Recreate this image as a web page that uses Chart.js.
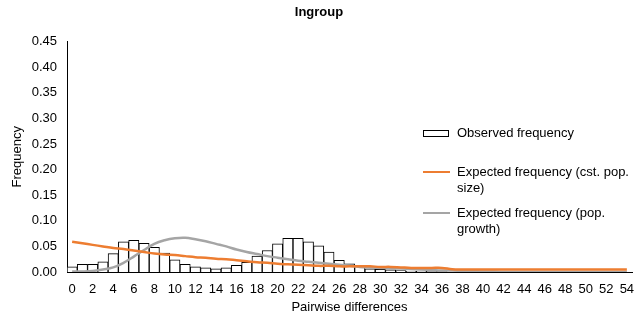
<!DOCTYPE html>
<html>
<head>
<meta charset="utf-8">
<script src="https://cdn.jsdelivr.net/npm/chart.js@4.4.1/dist/chart.umd.min.js"></script>
<style>
  body { margin: 0; background: #fff; }
  #wrap { position: relative; width: 637px; height: 324px; }
  .leg { position: absolute; font-family: "Liberation Sans", Arial, sans-serif; font-size: 13px; line-height: 16px; color: #000; white-space: nowrap; }
  .sym { position: absolute; }
</style>
</head>
<body>
<div id="wrap">
  <canvas id="chart" width="637" height="324"></canvas>
  <!-- legend drawn as html so the wrapped labels sit like the original -->
  <div class="sym" style="left:423px;top:130px;width:26px;height:7px;border:1px solid #000;box-sizing:border-box;background:#fff"></div>
  <div class="leg" style="left:457px;top:125px">Observed frequency</div>
  <div class="sym" style="left:423px;top:171px;width:27px;height:2px;background:#ED7D31"></div>
  <div class="leg" style="left:457px;top:164px">Expected frequency (cst. pop.<br>size)</div>
  <div class="sym" style="left:423px;top:212px;width:27px;height:2px;background:#A5A5A5"></div>
  <div class="leg" style="left:457px;top:205px">Expected frequency (pop.<br>growth)</div>
</div>
<script>
//------------------------------------//
//--------------- Data ---------------//
//------------------------------------//

const differences = [];
for (let i = 0; i <= 54; i++) differences.push(String(i));

const observedFreq = [
  0.010, 0.015, 0.015, 0.020, 0.036, 0.059, 0.062, 0.056, 0.048, 0.037,
  0.024, 0.015, 0.010, 0.008, 0.006, 0.008, 0.013, 0.019, 0.031, 0.042,
  0.055, 0.066, 0.066, 0.059, 0.051, 0.039, 0.023, 0.016, 0.011, 0.006,
  0.005, 0.004, 0.003, 0.002, 0.002, 0.001, 0.001, 0, 0, 0,
  0, 0, 0, 0, 0, 0, 0, 0, 0, 0,
  0, 0, 0, 0, 0
];

const expectedConstant = [
  0.059, 0.056, 0.053, 0.050, 0.047, 0.045, 0.042, 0.039, 0.036, 0.034,
  0.033, 0.031, 0.029, 0.028, 0.026, 0.025, 0.023, 0.021, 0.019, 0.018,
  0.016, 0.015, 0.014, 0.013, 0.012, 0.012, 0.011, 0.011, 0.011, 0.011,
  0.010, 0.010, 0.009, 0.008, 0.008, 0.008, 0.008, 0.0055, 0.005, 0.005,
  0.005, 0.005, 0.005, 0.005, 0.005, 0.005, 0.005, 0.005, 0.005, 0.005,
  0.005, 0.005, 0.005, 0.005, 0.005
];

const expectedGrowth = [
  0.001, 0.001, 0.002, 0.005, 0.009, 0.018, 0.030, 0.043, 0.055, 0.062,
  0.066, 0.067, 0.064, 0.060, 0.055, 0.050, 0.044, 0.039, 0.035, 0.031,
  0.028, 0.025, 0.022, 0.020, 0.018, 0.016, 0.014, 0.012, 0.010, 0.009,
  0.008, 0.007, 0.007, 0.006, 0.005, 0.004, 0.003, 0.003, 0.002, 0.002,
  0.001, 0.001, 0, 0, 0, 0, 0, 0, 0, 0,
  0, 0, 0, 0, 0
];

const yMax = 0.45;
const yStep = 0.05;

//------------------------------------//
//--------------- Chart --------------//
//------------------------------------//

Chart.defaults.font.family = '"Liberation Sans", Arial, sans-serif';
Chart.defaults.font.size = 13;
Chart.defaults.color = '#000';

const ctx = document.getElementById('chart');

let chartData = {
  labels: differences,
  datasets: [
    {
      type: 'line',
      label: 'Expected frequency (cst. pop. size)',
      data: expectedConstant,
      borderColor: '#ED7D31',
      borderWidth: 2.5,
      pointRadius: 0,
      tension: 0.4,
      fill: false,
      order: 1
    },
    {
      type: 'line',
      label: 'Expected frequency (pop. growth)',
      data: expectedGrowth,
      borderColor: '#A5A5A5',
      borderWidth: 2.5,
      pointRadius: 0,
      tension: 0.4,
      fill: false,
      order: 2
    },
    {
      type: 'bar',
      label: 'Observed frequency',
      data: observedFreq,
      backgroundColor: '#fff',
      borderColor: '#000',
      borderWidth: 1,
      barPercentage: 1,
      categoryPercentage: 1,
      order: 3
    }
  ]
};

let chartOptions = {
  responsive: false,
  animation: false,
  layout: {
    padding: { left: 6, right: 5, top: 0, bottom: 5 }
  },
  scales: {
    x: {
      offset: true,
      grid: { display: false, drawTicks: false },
      border: { display: true, color: '#000', width: 1 },
      ticks: {
        autoSkip: false,
        maxRotation: 0,
        minRotation: 0,
        padding: 10,
        callback: function (val, i) {
          return i % 2 === 0 ? this.getLabelForValue(val) : '';
        }
      },
      title: {
        display: true,
        text: 'Pairwise differences',
        padding: { top: 4, bottom: 4 }
      },
      afterFit: s => {
        s.height = 47;
        // labels fit inside the offset categories, no extra side room needed
        s.paddingLeft = 0;
        s.paddingRight = 0;
      }
    },
    y: {
      min: 0,
      max: yMax,
      grid: { display: false, drawTicks: false },
      border: { display: true, color: '#000', width: 1 },
      ticks: {
        stepSize: yStep,
        padding: 10,
        callback: v => v.toFixed(2)
      },
      title: {
        display: true,
        text: 'Frequency',
        padding: { top: 4, bottom: 4 }
      },
      afterFit: s => { s.width = 61; }
    }
  },
  plugins: {
    legend: { display: false },
    tooltip: { enabled: false },
    title: {
      display: true,
      text: 'Ingroup',
      font: { size: 13, weight: 'bold' },
      padding: { top: 5, bottom: 21 }
    }
  }
};

let mismatchChart = new Chart(ctx, {
  type: 'bar',
  data: chartData,
  options: chartOptions
});
</script>
</body>
</html>
